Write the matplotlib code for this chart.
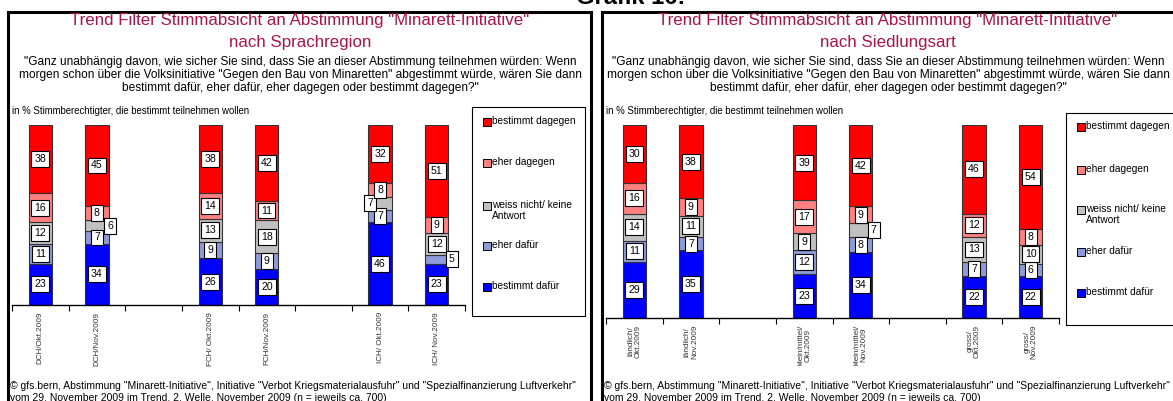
import matplotlib.pyplot as plt
from matplotlib.patches import Rectangle
import numpy as np

W, H = 1173, 401
plt.rcParams['font.family'] = ['Liberation Sans', 'DejaVu Sans']

serien = ["bestimmt dafür", "eher dafür", "weiss nicht/ keine\nAntwort", "eher dagegen", "bestimmt dagegen"]
farben = ["#0000FF", "#8E9BDB", "#C0C0C0", "#FF8080", "#FF0000"]

# nach Sprachregion
kat_sprache = ["DCH/Okt.2009", "DCH/Nov.2009", "FCH/ Okt.2009", "FCH/Nov.2009", "ICH/ Okt.2009", "ICH/ Nov.2009"]
dafuer_sprache = [23, 34, 26, 20, 46, 23]
eher_dafuer_sprache = [11, 7, 9, 9, 7, 5]
weissnicht_sprache = [12, 6, 13, 18, 7, 12]
eher_dagegen_sprache = [16, 8, 14, 11, 8, 9]
dagegen_sprache = [38, 45, 38, 42, 32, 51]

# nach Siedlungsart
kat_siedlung = ["ländlich/\nOkt.2009", "ländlich/\nNov.2009", "klein/mittel/\nOkt.2009",
                "klein/mittel/\nNov.2009", "gross/\nOkt.2009", "gross/\nNov.2009"]
dafuer_siedlung = [29, 35, 23, 34, 22, 22]
eher_dafuer_siedlung = [11, 7, 12, 8, 7, 6]
weissnicht_siedlung = [14, 11, 9, 7, 13, 10]
eher_dagegen_siedlung = [16, 9, 17, 9, 12, 8]
dagegen_siedlung = [30, 38, 39, 42, 46, 54]

titel_rot = "#AA1446"
frage = ('"Ganz unabhängig davon, wie sicher Sie sind, dass Sie an dieser Abstimmung teilnehmen würden: Wenn\n'
         'morgen schon über die Volksinitiative "Gegen den Bau von Minaretten" abgestimmt würde, wären Sie dann\n'
         'bestimmt dafür, eher dafür, eher dagegen oder bestimmt dagegen?"')
quelle = ('© gfs.bern, Abstimmung "Minarett-Initiative", Initiative "Verbot Kriegsmaterialausfuhr" und '
          '"Spezialfinanzierung Luftverkehr"\nvom 29. November 2009 im Trend, 2. Welle, November 2009 (n = jeweils ca. 700)')

fig = plt.figure(figsize=(W / 100, H / 100), dpi=100)


def fx(px):
    return px / W


def fy(py):
    return 1 - py / H


fig.text(fx(631), fy(4), "Grafik 16:", ha='center', va='baseline', fontsize=17, fontweight='bold')


def panel(x0, mitte, unterzeile, kategorien, daten, achse_unten, leg_y, leg_box, verschiebung):
    # Rahmen
    fig.patches.append(Rectangle((fx(x0), fy(430)), fx(583), fy(12) - fy(430), transform=fig.transFigure,
                                 fill=False, edgecolor='black', lw=2.2))
    fig.text(fx(mitte), fy(21), 'Trend Filter Stimmabsicht an Abstimmung "Minarett-Initiative"',
             ha='center', va='center', fontsize=12.2, color=titel_rot)
    fig.text(fx(mitte), fy(43), unterzeile, ha='center', va='center', fontsize=12.2, color=titel_rot)
    fig.text(fx(mitte), fy(75), frage, ha='center', va='center', fontsize=8.6, linespacing=1.12)
    fig.text(fx(x0 + 4), fy(111), "in % Stimmberechtigter, die bestimmt teilnehmen wollen",
             ha='left', va='center', fontsize=6.9)
    fig.text(fx(x0 + 2), fy(381), quelle, ha='left', va='top', fontsize=7.5, linespacing=1.25)

    ax = fig.add_axes([fx(x0 + 4), fy(achse_unten), fx(453), (achse_unten - 125) / H])
    x = np.array([i + i // 2 for i in range(len(kategorien))])
    unten = np.zeros(len(kategorien))
    for s, werte in enumerate(daten):
        werte = np.array(werte, dtype=float)
        ax.bar(x, werte, 0.41, bottom=unten, color=farben[s], edgecolor='#333333', lw=0.8, zorder=2)
        for i, v in enumerate(werte):
            dx = verschiebung.get((i, s), 0) / 56.6
            ax.text(x[i] + dx, unten[i] + v / 2, f"{int(v)}", ha='center', va='center', fontsize=7.6, zorder=3,
                    bbox=dict(boxstyle='square,pad=0.28', fc='white', ec='black', lw=0.8))
        unten += werte
    ax.set_xlim(-0.5, 7.5)
    ax.set_ylim(0, 100)
    for sp in ['top', 'left', 'right']:
        ax.spines[sp].set_visible(False)
    ax.spines['bottom'].set_linewidth(1.0)
    ax.set_yticks([])
    ax.set_xticks(x)
    ax.set_xticklabels(kategorien, rotation=90, fontsize=5.9, color='#333333', va='top', linespacing=1.0)
    ax.tick_params(axis='x', which='major', length=0, pad=5)
    ax.set_xticks(np.arange(-0.5, 8.0, 1.0), minor=True)
    ax.tick_params(axis='x', which='minor', length=4, width=0.8)
    ax.patch.set_alpha(0)

    # Legende
    lx0, ly0, lx1, ly1 = leg_box
    fig.patches.append(Rectangle((fx(lx0), fy(ly1)), fx(lx1 - lx0), fy(ly0) - fy(ly1), transform=fig.transFigure,
                                 fill=False, edgecolor='black', lw=0.8))
    for k, s in enumerate(range(len(serien) - 1, -1, -1)):
        yy = leg_y[k]
        fig.patches.append(Rectangle((fx(lx0 + 11), fy(yy + 4)), fx(8), 8 / H, transform=fig.transFigure,
                                     facecolor=farben[s], edgecolor='black', lw=0.7))
        fig.text(fx(lx0 + 20), fy(yy - 6), serien[s], ha='left', va='top', fontsize=7.3, linespacing=1.15)


panel(8, 300, "nach Sprachregion", kat_sprache,
      [dafuer_sprache, eher_dafuer_sprache, weissnicht_sprache, eher_dagegen_sprache, dagegen_sprache],
      305, [122, 163, 206, 246, 287], (472, 107, 585, 316),
      {(1, 2): 13, (4, 2): -10, (5, 1): 15})
panel(602, 888, "nach Siedlungsart", kat_siedlung,
      [dafuer_siedlung, eher_dafuer_siedlung, weissnicht_siedlung, eher_dagegen_siedlung, dagegen_siedlung],
      318, [127, 170, 210, 252, 293], (1066, 113, 1180, 325),
      {(3, 2): 13})

fig.savefig("out.png", dpi=100)
